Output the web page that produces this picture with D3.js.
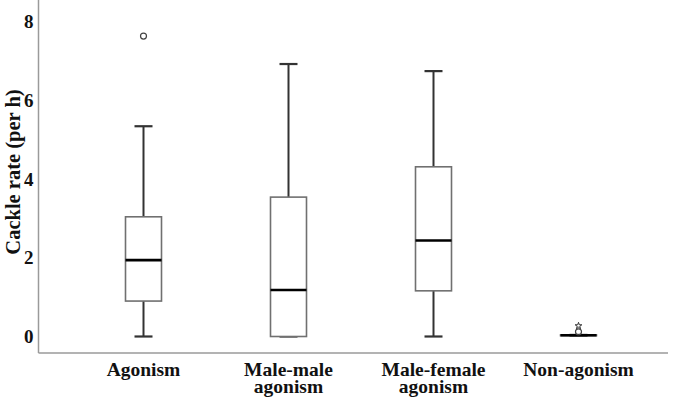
<!DOCTYPE html>
<html>
<head>
<meta charset="utf-8">
<script src="https://cdn.jsdelivr.net/npm/d3@7"></script>
</head>
<body style="margin:0; background:#fff">
<div id="chart"></div>
<script>
// Box plot summaries.
const categories = ["Agonism", "Male-male agonism", "Male-female agonism", "Non-agonism"];
const tickLabels = [["Agonism"], ["Male-male", "agonism"], ["Male-female", "agonism"], ["Non-agonism"]];
const whiskerLow = [0, 0, 0, 0.02];
const q1 = [0.90, 0, 1.16, 0.02];
const medians = [1.94, 1.18, 2.44, 0.03];
const q3 = [3.04, 3.54, 4.31, 0.04];
const whiskerHigh = [5.34, 6.92, 6.74, 0.04];

// Outliers (circles) and extremes (stars).
const outlierGroups = ["Agonism", "Non-agonism"];
const outlierValues = [7.63, 0.12];
const extremeGroups = ["Non-agonism"];
const extremeValues = [0.27];

const yTicks = [0, 2, 4, 6, 8];

const width = 685, height = 401;
const frameLeft = 38.5, frameRight = 668, frameBottom = 353;
const serif = "Liberation Serif";
const fontSize = 19;

const svg = d3.select("#chart")
    .append("svg")
        .attr("width", width)
        .attr("height", height);

const x = d3.scaleBand()
    .domain(categories)
    .range([71, 651])
    .padding(0);

const y = d3.scaleLinear()
    .domain([0, 8])
    .range([336.5, 21.5]);

const boxW = 36;
const capW = 18;

// Frame lines
svg.append("line")
    .attr("x1", frameLeft).attr("x2", frameLeft)
    .attr("y1", 0).attr("y2", frameBottom)
    .attr("stroke", "#9a9a9a").attr("stroke-width", 1.5);
svg.append("line")
    .attr("x1", frameLeft).attr("x2", frameRight)
    .attr("y1", frameBottom).attr("y2", frameBottom)
    .attr("stroke", "#9a9a9a").attr("stroke-width", 1.5);

// Y axis labels
const yAxis = svg.append("g")
    .attr("transform", "translate(" + frameLeft + ",0)")
    .call(d3.axisLeft(y).tickValues(yTicks).tickSize(0).tickPadding(5).tickFormat(d3.format("d")));
yAxis.attr("font-family", serif).attr("font-size", fontSize).attr("font-weight", "bold");
yAxis.select(".domain").remove();
yAxis.selectAll("text")
    .attr("font-family", serif)
    .attr("font-weight", "bold")
    .attr("fill", "#111");

// X axis labels, split over two lines
const xAxis = svg.append("g")
    .attr("transform", "translate(0," + frameBottom + ")")
    .call(d3.axisBottom(x).tickSize(0).tickFormat(""));
xAxis.attr("font-family", serif).attr("font-size", 19.5).attr("font-weight", "bold");
xAxis.select(".domain").remove();
xAxis.selectAll(".tick text").remove();
xAxis.selectAll(".tick").each(function (d, i) {
    const t = d3.select(this).append("text")
        .attr("text-anchor", "middle")
        .attr("font-family", serif)
        .attr("font-weight", "bold")
        .attr("fill", "#111")
        .attr("y", 23);
    tickLabels[i].forEach((line, j) => {
        t.append("tspan")
            .attr("x", 0)
            .attr("dy", j === 0 ? 0 : 17)
            .text(line);
    });
});

// Y title
svg.append("text")
    .attr("transform", "translate(20,172) rotate(-90)")
    .attr("text-anchor", "middle")
    .attr("font-family", serif)
    .attr("font-weight", "bold")
    .attr("font-size", 20.5)
    .attr("fill", "#111")
    .text("Cackle rate (per h)");

const boxes = svg.selectAll("g.box")
    .data(categories)
    .enter()
    .append("g")
        .attr("class", "box")
        .attr("transform", d => "translate(" + (x(d) + x.bandwidth() / 2) + ",0)");

// Whiskers
boxes.append("line")
    .attr("x1", 0).attr("x2", 0)
    .attr("y1", (d, i) => y(q3[i]))
    .attr("y2", (d, i) => y(whiskerHigh[i]))
    .attr("stroke", "#333").attr("stroke-width", 2);
boxes.append("line")
    .attr("x1", 0).attr("x2", 0)
    .attr("y1", (d, i) => y(q1[i]))
    .attr("y2", (d, i) => y(whiskerLow[i]))
    .attr("stroke", "#333").attr("stroke-width", 2);
boxes.append("line")
    .attr("x1", -capW / 2).attr("x2", capW / 2)
    .attr("y1", (d, i) => y(whiskerHigh[i]))
    .attr("y2", (d, i) => y(whiskerHigh[i]))
    .attr("stroke", "#333").attr("stroke-width", 2.2);
boxes.append("line")
    .attr("x1", -capW / 2).attr("x2", capW / 2)
    .attr("y1", (d, i) => y(whiskerLow[i]))
    .attr("y2", (d, i) => y(whiskerLow[i]))
    .attr("stroke", "#333").attr("stroke-width", 2.2);

// Boxes
boxes.append("rect")
    .attr("x", -boxW / 2)
    .attr("width", boxW)
    .attr("y", (d, i) => y(q3[i]))
    .attr("height", (d, i) => Math.max(0.5, y(q1[i]) - y(q3[i])))
    .attr("fill", "#fff")
    .attr("stroke", "#707070").attr("stroke-width", 1.6);

// Medians
boxes.append("line")
    .attr("x1", -boxW / 2).attr("x2", boxW / 2)
    .attr("y1", (d, i) => y(medians[i]))
    .attr("y2", (d, i) => y(medians[i]))
    .attr("stroke", "#000").attr("stroke-width", 2.6);

// Outliers
svg.selectAll("circle.outlier")
    .data(outlierValues)
    .enter()
    .append("circle")
        .attr("class", "outlier")
        .attr("cx", (d, i) => x(outlierGroups[i]) + x.bandwidth() / 2)
        .attr("cy", d => y(d))
        .attr("r", 3)
        .attr("fill", "none")
        .attr("stroke", "#444").attr("stroke-width", 1.2);

svg.selectAll("path.extreme")
    .data(extremeValues)
    .enter()
    .append("path")
        .attr("class", "extreme")
        .attr("d", d3.symbol(d3.symbolStar, 14))
        .attr("transform", (d, i) => "translate(" + (x(extremeGroups[i]) + x.bandwidth() / 2) + "," + y(d) + ")")
        .attr("fill", "none")
        .attr("stroke", "#333").attr("stroke-width", 1);
</script>
</body>
</html>
